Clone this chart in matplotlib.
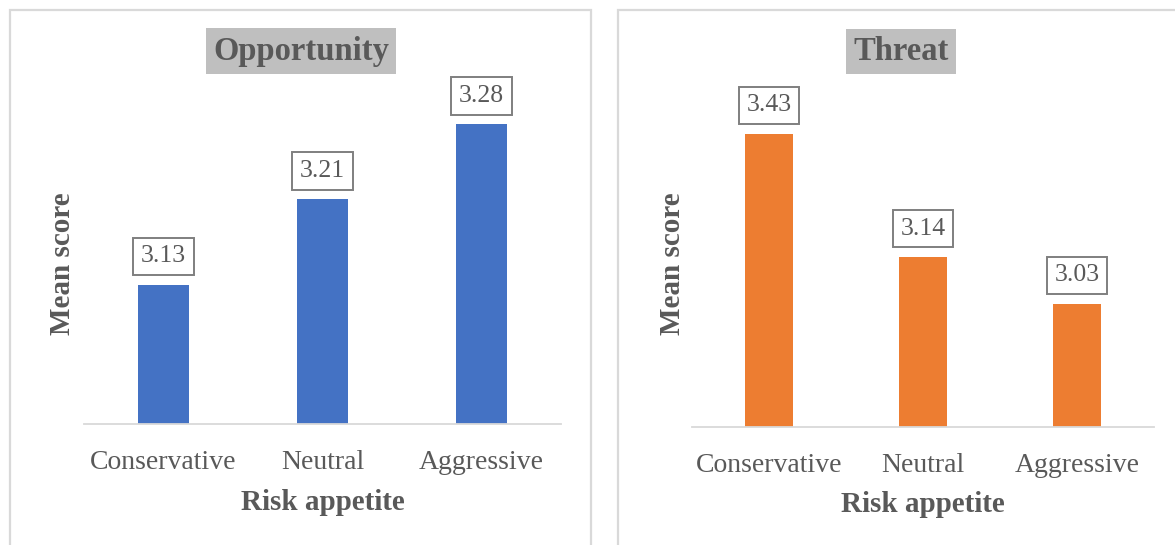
import matplotlib
matplotlib.use("Agg")
import matplotlib.pyplot as plt
from matplotlib.patches import Rectangle

# Data
categories = ["Conservative", "Neutral", "Aggressive"]
opportunity_scores = [3.13, 3.21, 3.28]
threat_scores = [3.43, 3.14, 3.03]
panel_titles = ["Opportunity", "Threat"]
x_title = "Risk appetite"
y_title = "Mean score"

W, H = 1175, 545
TEXT = "#595959"
FONT = "Liberation Serif"

plt.rcParams["font.family"] = [FONT, "DejaVu Serif"]

fig = plt.figure(figsize=(W / 100, H / 100), dpi=100)


def axes_px(x0, x1, ytop, ybot):
    return fig.add_axes([x0 / W, (H - ybot) / H, (x1 - x0) / W, (ybot - ytop) / H])


def panel_frame(x0, x1, ytop):
    fig.add_artist(Rectangle((x0 / W, -0.1), (x1 - x0) / W, (H - ytop) / H + 0.1,
                             transform=fig.transFigure, fill=False,
                             ec="#d9d9d9", lw=1.6, zorder=0))


def draw_panel(ax, values, color, ylim, title, title_xy):
    x = list(range(len(categories)))
    ax.bar(x, values, width=0.315, color=color, zorder=2)
    ax.set_xlim(-0.5, len(categories) - 0.5)
    ax.set_ylim(*ylim)
    for s in ("left", "right", "top"):
        ax.spines[s].set_visible(False)
    ax.spines["bottom"].set_color("#d9d9d9")
    ax.spines["bottom"].set_linewidth(1.3)
    ax.set_yticks([])
    ax.set_xticks(x)
    ax.set_xticklabels(categories, fontsize=20, color=TEXT)
    ax.tick_params(axis="x", length=0, pad=19)
    ax.set_xlabel(x_title, fontsize=21, fontweight="bold", color=TEXT)
    ax.set_ylabel(y_title, fontsize=21, fontweight="bold", color=TEXT)
    ax.yaxis.label.set_va("center")
    ax.yaxis.label.set_ha("center")
    ax.xaxis.label.set_va("center")
    for xi, v in zip(x, values):
        ax.annotate(f"{v:.2f}", xy=(xi, v), xytext=(0, 20.5),
                    textcoords="offset points", ha="center", va="center",
                    fontsize=18.5, color=TEXT, zorder=3,
                    bbox=dict(boxstyle="square,pad=0.3", fc="white",
                              ec="#7f7f7f", lw=1.4))
    fig.text(title_xy[0] / W, 1 - title_xy[1] / H, title, ha="center",
             va="center", fontsize=23.5, fontweight="bold", color=TEXT,
             bbox=dict(boxstyle="square,pad=0.22", fc="#bfbfbf", ec="none"))


panel_frame(10, 591, 10)
panel_frame(618, 1190, 10)

ax1 = axes_px(84, 561, 100, 424)
draw_panel(ax1, opportunity_scores, "#4472C4", (3.0, 3.0 + 324 / 1070),
           panel_titles[0], (301, 51))
ax1.xaxis.set_label_coords(0.5, (424 - 502) / 324)
ax1.yaxis.set_label_coords((63 - 84) / 477, (424 - 264) / 324)

ax2 = axes_px(692, 1154, 100, 427)
draw_panel(ax2, threat_scores, "#ED7D31", (2.74, 2.74 + 327 / 425),
           panel_titles[1], (901, 51.5))
ax2.xaxis.set_label_coords(0.5, (427 - 505) / 327)
ax2.yaxis.set_label_coords((672 - 692) / 462, (427 - 264) / 327)

fig.savefig("out.png", dpi=100)
